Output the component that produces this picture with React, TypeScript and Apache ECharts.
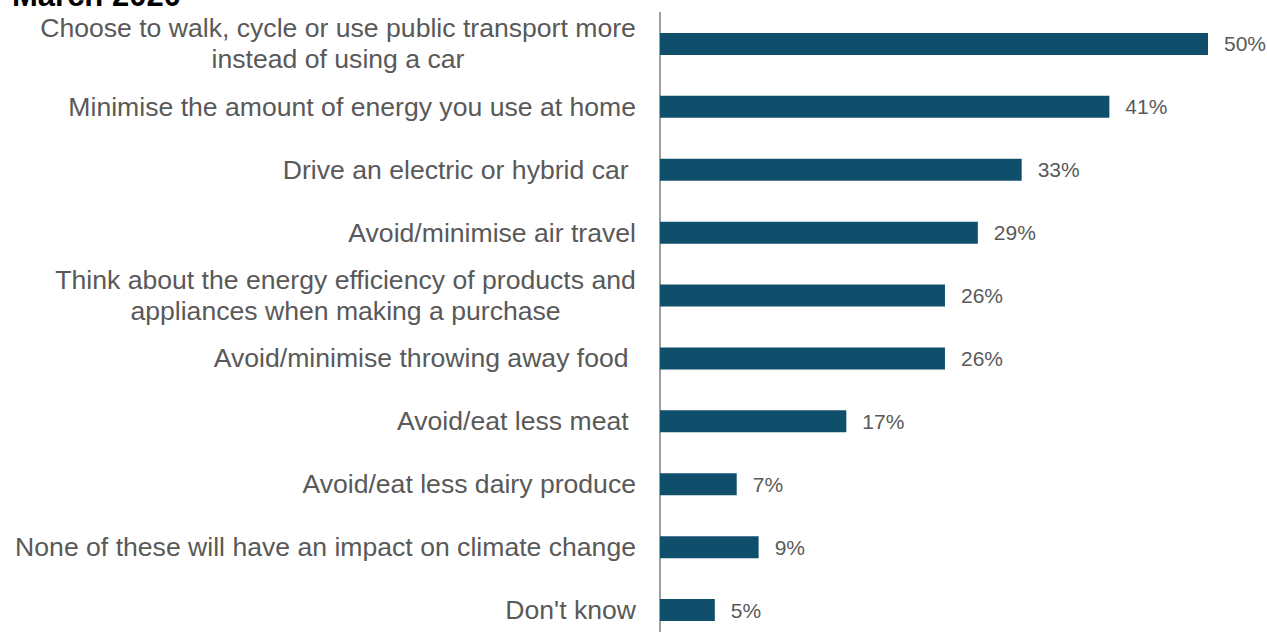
import React, { useEffect, useRef } from "react";
import * as echarts from "echarts";

const categories = [
  "Choose to walk, cycle or use public transport more\ninstead of using a car",
  "Minimise the amount of energy you use at home",
  "Drive an electric or hybrid car ",
  "Avoid/minimise air travel",
  "Think about the energy efficiency of products and\nappliances when making a purchase",
  "Avoid/minimise throwing away food ",
  "Avoid/eat less meat ",
  "Avoid/eat less dairy produce",
  "None of these will have an impact on climate change",
  "Don't know",
];
const values = [50, 41, 33, 29, 26, 26, 17, 7, 9, 5];
const title = "March 2020";

const FONT = "'Liberation Sans', Arial, sans-serif";
const LABEL_SIZE = 26.6;

function measure(text: string): number {
  const c = document.createElement("canvas").getContext("2d");
  if (!c) return text.length * 13;
  c.font = `${LABEL_SIZE}px 'Liberation Sans'`;
  return c.measureText(text).width;
}

export default function App() {
  const ref = useRef<HTMLDivElement>(null);
  useEffect(() => {
    if (!ref.current) return;
    const chart = echarts.init(ref.current, undefined, { renderer: "svg" });
    const rich: Record<string, any> = {};
    const keyFor: Record<string, string> = {};
    categories.forEach((cat, i) => {
      const lines = cat.split("\n");
      if (lines.length > 1) {
        const w = Math.max(...lines.map(measure));
        const k = "m" + i;
        keyFor[cat] = k;
        rich[k] = {
          width: Math.ceil(w),
          align: "center",
          fontSize: LABEL_SIZE,
          fontFamily: FONT,
          color: "#595959",
          lineHeight: 31,
        };
      }
    });
    chart.setOption({
      animation: false,
      graphic: [
        {
          type: "text",
          left: 12,
          top: -20,
          style: {
            text: title,
            font: `bold 31px ${FONT}`,
            fill: "#000000",
          },
        },
      ],
      grid: { left: 660, right: 59, top: 12.5, height: 629, containLabel: false },
      xAxis: {
        type: "value",
        min: 0,
        max: 50,
        show: false,
      },
      yAxis: {
        type: "category",
        inverse: true,
        data: categories,
        axisLine: { show: true, lineStyle: { color: "#7f7f7f", width: 1.5 } },
        axisTick: { show: false },
        splitLine: { show: false },
        axisLabel: {
          margin: 24,
          fontSize: LABEL_SIZE,
          fontFamily: FONT,
          color: "#595959",
          lineHeight: 31,
          formatter: (v: string) => {
            const k = keyFor[v];
            if (!k) return v;
            return v
              .split("\n")
              .map((l) => `{${k}|${l}}`)
              .join("\n");
          },
          rich,
        },
      },
      series: [
        {
          type: "bar",
          data: values,
          barWidth: 22,
          itemStyle: { color: "#104f6c" },
          label: {
            show: true,
            position: "right",
            distance: 16,
            formatter: "{c}%",
            fontSize: 21,
            fontFamily: FONT,
            color: "#595959",
          },
        },
      ],
    });
    return () => chart.dispose();
  }, []);
  return (
    <div
      ref={ref}
      style={{ position: "absolute", left: 0, top: 0, width: 1267, height: 650 }}
    />
  );
}
